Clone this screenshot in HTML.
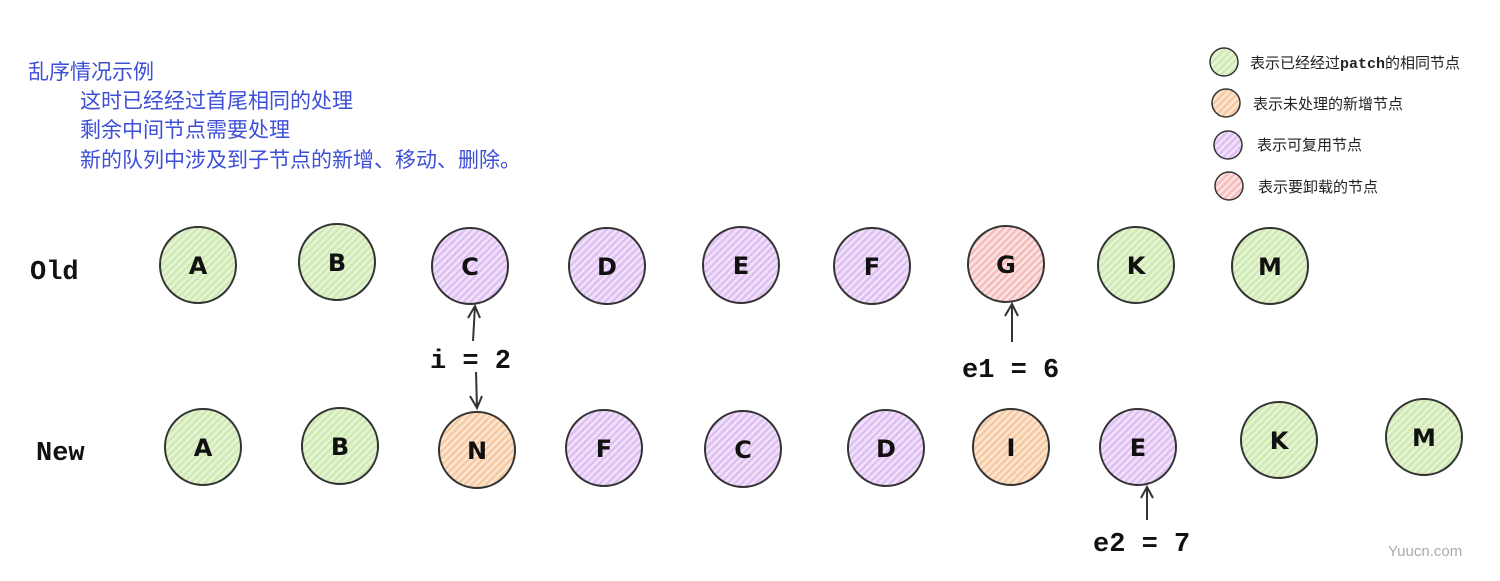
<!DOCTYPE html>
<html><head><meta charset="utf-8"><style>
html,body{margin:0;padding:0;background:#fff;width:1500px;height:581px;overflow:hidden}
svg{display:block}
.cn{font-family:"Liberation Sans","Noto Sans CJK SC",sans-serif}
.m{font-family:"Liberation Mono","DejaVu Sans Mono",monospace;font-weight:bold}
.s{font-family:"DejaVu Sans","Liberation Sans",sans-serif;font-weight:bold}
</style></head><body>
<svg width="1500" height="581" xmlns="http://www.w3.org/2000/svg">
<defs>
<pattern id="hg" width="5" height="5" patternUnits="userSpaceOnUse" patternTransform="rotate(45)"><rect width="5" height="5" fill="#e6f4d6"/><rect width="2.5" height="5" fill="#cfe9b2"/></pattern>
<pattern id="hp" width="5" height="5" patternUnits="userSpaceOnUse" patternTransform="rotate(45)"><rect width="5" height="5" fill="#f1e2fa"/><rect width="2.5" height="5" fill="#dfc0f2"/></pattern>
<pattern id="ho" width="5" height="5" patternUnits="userSpaceOnUse" patternTransform="rotate(45)"><rect width="5" height="5" fill="#fce6d2"/><rect width="2.5" height="5" fill="#f7c9a0"/></pattern>
<pattern id="hr" width="5" height="5" patternUnits="userSpaceOnUse" patternTransform="rotate(45)"><rect width="5" height="5" fill="#fde4e4"/><rect width="2.5" height="5" fill="#f6bcbc"/></pattern>
</defs>
<g class="cn" fill="#3d4fd6" font-size="21">
<text x="28" y="79">乱序情况示例</text>
<text x="80" y="108">这时已经经过首尾相同的处理</text>
<text x="80" y="137">剩余中间节点需要处理</text>
<text x="80" y="167">新的队列中涉及到子节点的新增、移动、删除。</text>
</g>
<g stroke="#333" stroke-width="1.5">
<circle cx="1224" cy="62" r="14" fill="url(#hg)"/>
<circle cx="1226" cy="103" r="14" fill="url(#ho)"/>
<circle cx="1228" cy="145" r="14" fill="url(#hp)"/>
<circle cx="1229" cy="186" r="14" fill="url(#hr)"/>
</g>
<g class="cn" font-size="15" fill="#222">
<text x="1250" y="68">表示已经经过<tspan class="m">patch</tspan>的相同节点</text>
<text x="1253" y="109">表示未处理的新增节点</text>
<text x="1257" y="150">表示可复用节点</text>
<text x="1258" y="192">表示要卸载的节点</text>
</g>
<g class="m" font-size="27" fill="#111">
<text x="30" y="279">Old</text>
<text x="36" y="460">New</text>
<text x="430" y="368">i = 2</text>
<text x="962" y="377">e1 = 6</text>
<text x="1093" y="551">e2 = 7</text>
</g>
<g stroke="#333" stroke-width="2" fill="none">
<circle cx="198" cy="265" r="38" fill="url(#hg)"/>
<circle cx="337" cy="262" r="38" fill="url(#hg)"/>
<circle cx="470" cy="266" r="38" fill="url(#hp)"/>
<circle cx="607" cy="266" r="38" fill="url(#hp)"/>
<circle cx="741" cy="265" r="38" fill="url(#hp)"/>
<circle cx="872" cy="266" r="38" fill="url(#hp)"/>
<circle cx="1006" cy="264" r="38" fill="url(#hr)"/>
<circle cx="1136" cy="265" r="38" fill="url(#hg)"/>
<circle cx="1270" cy="266" r="38" fill="url(#hg)"/>
<circle cx="203" cy="447" r="38" fill="url(#hg)"/>
<circle cx="340" cy="446" r="38" fill="url(#hg)"/>
<circle cx="477" cy="450" r="38" fill="url(#ho)"/>
<circle cx="604" cy="448" r="38" fill="url(#hp)"/>
<circle cx="743" cy="449" r="38" fill="url(#hp)"/>
<circle cx="886" cy="448" r="38" fill="url(#hp)"/>
<circle cx="1011" cy="447" r="38" fill="url(#ho)"/>
<circle cx="1138" cy="447" r="38" fill="url(#hp)"/>
<circle cx="1279" cy="440" r="38" fill="url(#hg)"/>
<circle cx="1424" cy="437" r="38" fill="url(#hg)"/>
<path d="M473 341 L475 306 M468 318 L475 306 L480 318"/>
<path d="M476 372 L477 408 M470 396 L477 408 L482 396"/>
<path d="M1012 342 L1012 304 M1005 316 L1012 304 L1018 316"/>
<path d="M1147 520 L1147 487 M1141 498 L1147 487 L1153 498"/>
</g>
<g class="s" font-size="24" fill="#111" text-anchor="middle">
<text x="198" y="274">A</text><text x="337" y="271">B</text><text x="470" y="275">C</text>
<text x="607" y="275">D</text><text x="741" y="274">E</text><text x="872" y="275">F</text>
<text x="1006" y="273">G</text><text x="1136" y="274">K</text><text x="1270" y="275">M</text>
<text x="203" y="456">A</text><text x="340" y="455">B</text><text x="477" y="459">N</text>
<text x="604" y="457">F</text><text x="743" y="458">C</text><text x="886" y="457">D</text>
<text x="1011" y="456">I</text><text x="1138" y="456">E</text><text x="1279" y="449">K</text>
<text x="1424" y="446">M</text>
</g>
<text x="1388" y="556" class="cn" font-size="15" fill="#aaa">Yuucn.com</text>
</svg>
</body></html>
